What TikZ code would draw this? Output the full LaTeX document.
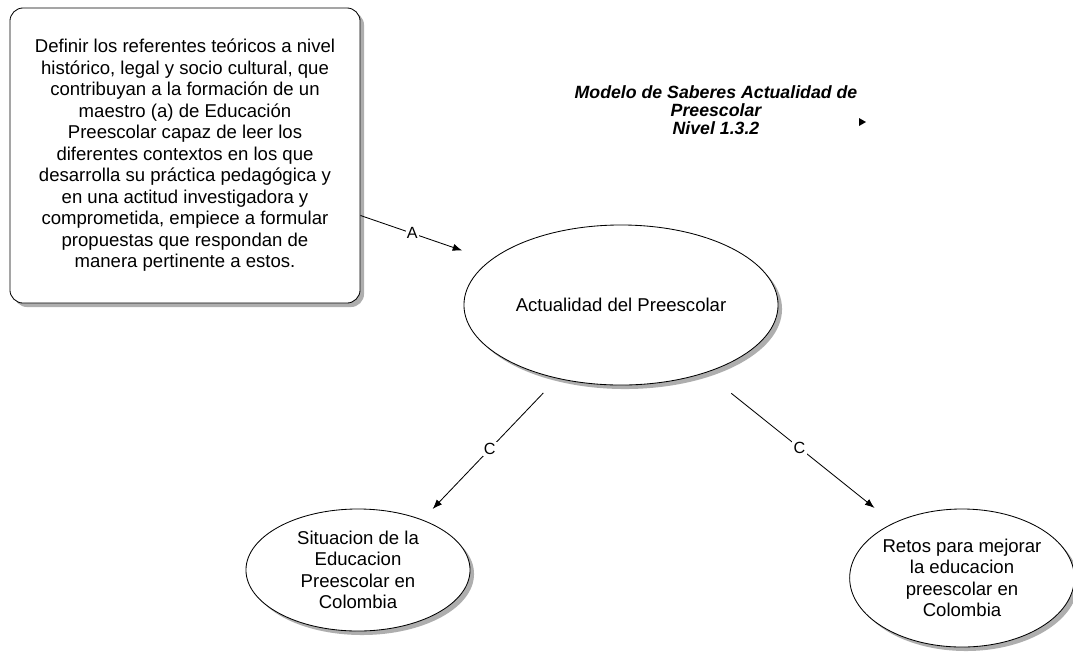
\documentclass[tikz,border=0pt]{standalone}
\usepackage{fontspec}
\setmainfont{Liberation Sans}
\usetikzlibrary{shapes.geometric,arrows.meta,shadows}

\begin{document}
\begin{tikzpicture}[x=0.025cm,y=-0.025cm,semithick,
    txt/.style={font=\fontsize{13.2}{15.3}\selectfont,align=center},
    shade/.style={drop shadow={shadow xshift=0.1cm,shadow yshift=-0.1cm,fill=black!45,opacity=0.7}},
    goal/.style={rectangle,rounded corners=0.33cm,draw,fill=white,inner sep=0pt,
      minimum width=8.75cm,minimum height=7.375cm,txt,shade},
    topic/.style={ellipse,draw,fill=white,inner sep=0pt,txt,shade},
    link/.style={-{Latex[length=2.4mm,width=1.8mm]}},
    lbl/.style={fill=white,inner sep=1pt,font=\fontsize{11.5}{13}\selectfont}]

  \fill[white] (0,0) rectangle (1073,654);
  \useasboundingbox (0,0) rectangle (1073,654);

  % objetivo
  \node[goal] (goal) at (185,155.5) {Definir los referentes teóricos a nivel\\
    histórico, legal y socio cultural, que\\
    contribuyan a la formación de un\\
    maestro (a) de Educación\\
    Preescolar capaz de leer los\\
    diferentes contextos en los que\\
    desarrolla su práctica pedagógica y\\
    en una actitud investigadora y\\
    comprometida, empiece a formular\\
    propuestas que respondan de\\
    manera pertinente a estos.};

  \node[align=center,font=\fontsize{12.6}{13}\selectfont\bfseries\itshape] (titulo)
    at (716,110) {Modelo de Saberes Actualidad de\\Preescolar\\Nivel 1.3.2};
  \fill (859,118) -- (866,122) -- (859,126) -- cycle;

  % saberes
  \node[topic,minimum width=7.85cm,minimum height=4cm] (actual) at (621,305)
    {Actualidad del Preescolar};
  \node[topic,minimum width=5.6cm,minimum height=3.05cm] (situacion) at (358,570)
    {Situacion de la\\Educacion\\Preescolar en\\Colombia};
  \node[topic,minimum width=5.5cm,minimum height=3.45cm] (retos) at (962,578)
    {Retos para mejorar\\la educacion\\preescolar en\\Colombia};

  \draw[link,shorten >=0.74cm] (goal) -- node[lbl,pos=0.4] {A} (actual);
  \draw[link,shorten <=0.5cm,shorten >=0.37cm] (actual.229) -- node[lbl] {C} (situacion.38);
  \draw[link,shorten <=0.82cm,shorten >=0.6cm] (actual) -- node[lbl] {C} (retos);

\end{tikzpicture}
\end{document}
